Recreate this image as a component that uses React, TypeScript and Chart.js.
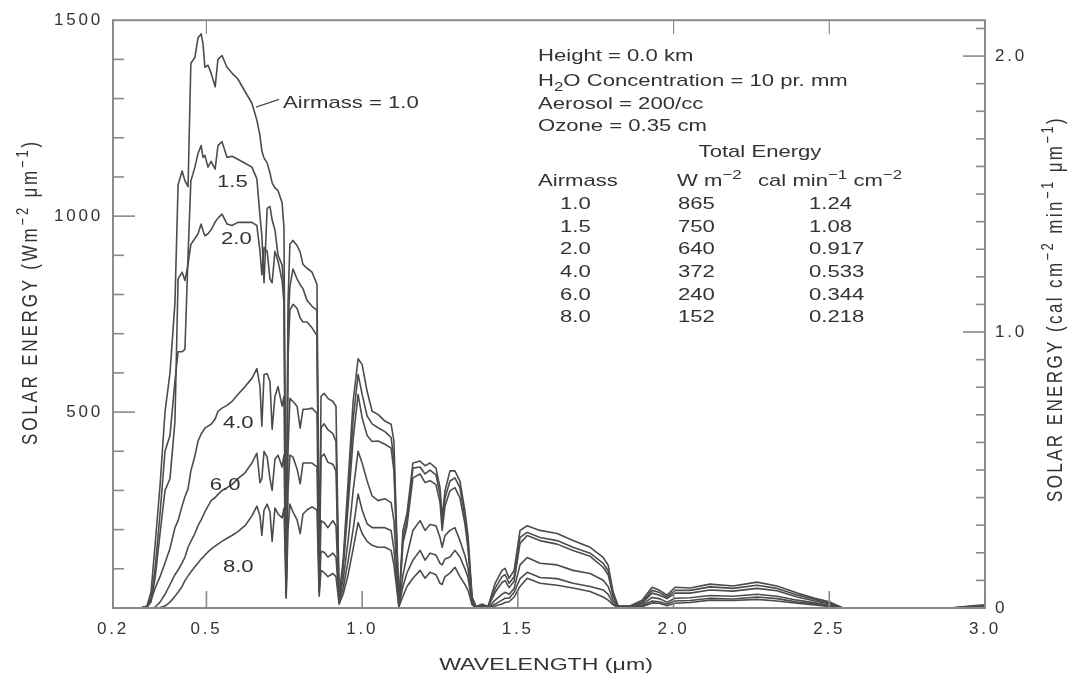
import React, { useEffect, useRef } from "react";
import { Chart, registerables } from "chart.js";

Chart.register(...registerables);

// ---------- data ----------
const wavelength = [
  0.200, 0.287, 0.309, 0.322, 0.335, 0.351, 0.367, 0.383, 0.399, 0.409,
  0.422, 0.431, 0.441, 0.450, 0.463, 0.473, 0.483, 0.489, 0.495, 0.505,
  0.515, 0.528, 0.537, 0.550, 0.566, 0.582, 0.601, 0.624, 0.646, 0.662,
  0.672, 0.678, 0.685, 0.695, 0.704, 0.711, 0.720, 0.730, 0.743, 0.749,
  0.756, 0.762, 0.768, 0.778, 0.791, 0.801, 0.810, 0.823, 0.839, 0.855,
  0.862, 0.868, 0.878, 0.890, 0.906, 0.916, 0.926, 0.939, 0.955, 0.971,
  0.987, 1.000, 1.016, 1.032, 1.051, 1.073, 1.093, 1.102, 1.118, 1.131,
  1.144, 1.163, 1.186, 1.202, 1.218, 1.237, 1.250, 1.257, 1.266, 1.282,
  1.298, 1.314, 1.330, 1.340, 1.353, 1.366, 1.385, 1.404, 1.427, 1.449,
  1.459, 1.472, 1.488, 1.507, 1.530, 1.571, 1.626, 1.677, 1.732, 1.774,
  1.790, 1.806, 1.822, 1.860, 1.899, 1.931, 1.953, 1.979, 2.005, 2.053,
  2.117, 2.191, 2.268, 2.332, 2.397, 2.454, 2.503, 2.544, 2.727, 2.888,
  2.952, 3.000,
];

const airmass10 = [
  0, 0, 5, 40, 160, 312, 500, 600, 780, 1080,
  1115, 1090, 1075, 1390, 1405, 1455, 1465, 1440, 1380, 1385,
  1365, 1330, 1400, 1410, 1380, 1365, 1350, 1318, 1288, 1245,
  1205, 1166, 1148, 1136, 1110, 1085, 1072, 1065, 1034, 970,
  40, 780, 928, 938, 925, 908, 877, 867, 857, 826,
  80, 540, 548, 535, 527, 515, 28, 122, 324, 527,
  636, 621, 553, 502, 494, 477, 469, 426, 10, 198,
  241, 370, 375, 363, 370, 357, 307, 231, 299, 350,
  350, 324, 248, 185, 28, 3, 10, 3, 63, 96,
  101, 76, 96, 198, 210, 198, 190, 172, 155, 129,
  109, 41, 5, 5, 20, 53, 46, 33, 53, 51,
  61, 56, 66, 56, 38, 25, 15, 0, 0, 0,
  5, 8,
];

const airmass15 = [
  0, 0, 3, 25, 100, 240, 400, 440, 580, 654,
  654, 660, 900, 1090, 1125, 1160, 1180, 1150, 1155, 1125,
  1140, 1120, 1180, 1190, 1150, 1153, 1145, 1135, 1125, 1095,
  1000, 950, 830, 1020, 1025, 990, 965, 900, 875, 815,
  40, 720, 820, 865, 840, 825, 815, 785, 770, 760,
  70, 460, 470, 455, 445, 425, 25, 110, 290, 480,
  596, 545, 490, 470, 460, 450, 435, 380, 8, 180,
  225, 357, 360, 342, 352, 340, 290, 215, 280, 324,
  332, 307, 230, 165, 25, 3, 8, 3, 50, 80,
  85, 63, 80, 180, 193, 180, 172, 155, 140, 114,
  95, 35, 5, 5, 15, 45, 40, 28, 45, 45,
  54, 50, 58, 50, 33, 22, 12, 0, 0, 0,
  4, 6,
];

const airmass20 = [
  0, 0, 2, 15, 75, 190, 300, 330, 477, 840,
  857, 836, 877, 928, 943, 955, 980, 963, 950, 955,
  965, 985, 995, 1005, 980, 976, 984, 984, 984, 976,
  910, 850, 920, 910, 840, 830, 910, 885, 835, 780,
  38, 640, 760, 775, 765, 740, 730, 730, 715, 695,
  60, 385, 393, 372, 367, 350, 22, 100, 260, 430,
  545, 485, 440, 425, 426, 418, 408, 350, 7, 165,
  210, 332, 342, 320, 325, 315, 270, 198, 260, 299,
  307, 281, 215, 150, 22, 3, 7, 3, 40, 65,
  70, 52, 68, 165, 185, 172, 163, 147, 132, 104,
  85, 30, 4, 4, 12, 38, 33, 24, 38, 38,
  46, 43, 50, 44, 28, 18, 10, 0, 0, 0,
  3, 5,
];

const airmass40 = [
  0, 0, 3, 20, 50, 80, 115, 152, 205, 223,
  261, 284, 304, 350, 388, 426, 444, 451, 459, 464,
  469, 482, 502, 510, 517, 527, 545, 565, 586, 611,
  565, 464, 596, 598, 578, 456, 540, 565, 515, 540,
  33, 400, 535, 527, 515, 459, 507, 507, 510, 497,
  46, 223, 218, 205, 223, 210, 20, 71, 172, 299,
  400, 370, 324, 286, 274, 279, 269, 223, 5, 84,
  134, 198, 223, 198, 213, 210, 180, 155, 185, 198,
  205, 172, 134, 101, 15, 2, 5, 2, 20, 35,
  40, 35, 50, 110, 129, 114, 110, 96, 88, 71,
  55, 20, 3, 3, 8, 27, 24, 15, 25, 26,
  32, 30, 35, 30, 20, 13, 7, 0, 0, 0,
  2, 3,
];

const airmass60 = [
  0, 0, 0, 0, 2, 15, 35, 60, 85, 97,
  115, 130, 155, 170, 190, 210, 225, 235, 245, 260,
  274, 282, 290, 300, 307, 315, 330, 345, 370, 395,
  320, 330, 400, 385, 330, 300, 380, 390, 360, 390,
  30, 300, 390, 385, 355, 317, 370, 370, 370, 360,
  40, 145, 142, 130, 140, 130, 15, 50, 120, 200,
  291, 250, 215, 205, 205, 205, 198, 150, 4, 55,
  90, 122, 147, 122, 140, 135, 114, 110, 125, 130,
  147, 130, 100, 78, 10, 1, 3, 1, 10, 20,
  25, 25, 40, 75, 91, 78, 75, 63, 55, 46,
  35, 12, 2, 2, 5, 18, 16, 10, 18, 19,
  25, 23, 28, 24, 15, 10, 5, 0, 0, 0,
  1, 2,
];

const airmass80 = [
  0, 0, 0, 0, 0, 1, 5, 15, 30, 40,
  55, 70, 82, 92, 105, 115, 125, 129, 135, 143,
  150, 158, 163, 170, 178, 185, 195, 210, 235, 260,
  235, 185, 250, 265, 245, 170, 255, 240, 230, 255,
  25, 200, 265, 245, 225, 190, 240, 250, 258, 250,
  30, 96, 90, 80, 88, 80, 10, 35, 85, 150,
  218, 190, 170, 160, 155, 155, 147, 110, 3, 30,
  55, 76, 96, 76, 91, 85, 63, 60, 80, 89,
  104, 80, 60, 45, 8, 1, 2, 1, 5, 10,
  14, 16, 28, 55, 76, 63, 58, 51, 42, 28,
  20, 8, 1, 1, 3, 13, 12, 6, 12, 14,
  20, 19, 22, 18, 12, 8, 3, 0, 0, 0,
  1, 1,
];

const seriesNames = ["1.0", "1.5", "2.0", "4.0", "6.0", "8.0"];
const totalEnergyWm2 = ["865", "750", "640", "372", "240", "152"];
const totalEnergyCal = ["1.24", "1.08", "0.917", "0.533", "0.344", "0.218"];
const conditionLines = ["Height = 0.0 km", "Concentration = 10 pr. mm", "Aerosol = 200/cc", "Ozone = 0.35 cm"];

const xTickValues = [0.2, 0.5, 1.0, 1.5, 2.0, 2.5, 3.0];
const xTopTickValues = [0.5, 2.0, 2.5];
const leftLabelValues = [500, 1000, 1500];
const leftMinorValues = [100, 200, 300, 400, 500, 600, 700, 800, 900, 1000, 1100, 1200, 1300, 1400];
const rightLabelValues = [0, 1.0, 2.0];
const rightMinorValues = [0.1, 0.2, 0.3, 0.4, 0.5, 0.6, 0.7, 0.8, 0.9, 1.0, 1.1, 1.2, 1.3, 1.4, 1.5, 1.6, 1.7, 1.8, 1.9, 2.0, 2.1];
const leftMax = 1500;
const rightMax = 2.13;

// ---------- styling ----------
const FONT = '"Liberation Sans", Arial, Helvetica, sans-serif';
const TEXT_COLOR = "#333333";
const LINE_COLOR = "#4c4c4c";
const FRAME_COLOR = "#8a8a8a";
const TICK_SPACING = 2.8;

type Run = { t: string; s?: "sup" | "sub" };
type TextOpts = { size: number; align: "left" | "center"; sx?: number; sy?: number; spacing?: number };

function setSpacing(ctx: CanvasRenderingContext2D, px: number) {
  try {
    (ctx as any).letterSpacing = px + "px";
  } catch (e) {}
}

function fontFor(size: number, run: Run) {
  return `${run.s ? Math.round(size * 0.74) : size}px ${FONT}`;
}

function drawText(ctx: CanvasRenderingContext2D, runs: Run[], x: number, y: number, o: TextOpts) {
  const sx = o.sx ?? 1;
  const sy = o.sy ?? 1;
  setSpacing(ctx, o.spacing ?? 0);
  ctx.textAlign = "left";
  ctx.textBaseline = "alphabetic";
  const widths = runs.map((r) => {
    ctx.font = fontFor(o.size, r);
    return ctx.measureText(r.t).width;
  });
  const total = widths.reduce((a, b) => a + b, 0);
  ctx.save();
  ctx.translate(x, y);
  ctx.scale(sx, sy);
  let cx = o.align === "center" ? -total / 2 : 0;
  runs.forEach((r, i) => {
    ctx.font = fontFor(o.size, r);
    const dy = r.s === "sup" ? -o.size * 0.42 : r.s === "sub" ? o.size * 0.28 : 0;
    ctx.fillText(r.t, cx, dy);
    cx += widths[i];
  });
  ctx.restore();
}

function line(ctx: CanvasRenderingContext2D, x1: number, y1: number, x2: number, y2: number) {
  ctx.beginPath();
  ctx.moveTo(x1, y1);
  ctx.lineTo(x2, y2);
  ctx.stroke();
}

const decorPlugin = {
  id: "decor",
  beforeDraw(chart: any) {
    const ctx = chart.ctx as CanvasRenderingContext2D;
    ctx.save();
    ctx.fillStyle = "#ffffff";
    ctx.fillRect(0, 0, chart.width, chart.height);
    ctx.restore();
    setSpacing(ctx, TICK_SPACING);
  },
  afterDraw(chart: any) {
    const ctx = chart.ctx as CanvasRenderingContext2D;
    const { left, right, top, bottom } = chart.chartArea;
    const xs = chart.scales.x;
    const ys = chart.scales.y;
    const y2 = chart.scales.y2;
    ctx.save();

    // frame
    ctx.strokeStyle = FRAME_COLOR;
    ctx.lineWidth = 2;
    ctx.strokeRect(left, top, right - left, bottom - top);

    // ticks (inward)
    ctx.lineWidth = 1.6;
    leftMinorValues.forEach((v) => {
      const py = ys.getPixelForValue(v);
      const len = v % 500 === 0 ? 22 : 11;
      line(ctx, left, py, left + len, py);
    });
    rightMinorValues.forEach((v) => {
      const py = y2.getPixelForValue(v);
      const major = Math.abs(v - 1) < 1e-6 || Math.abs(v - 2) < 1e-6;
      const len = major ? 22 : 9;
      line(ctx, right - len, py, right, py);
    });
    xTickValues.forEach((v) => {
      if (v < 0.3) return;
      const px = xs.getPixelForValue(v);
      line(ctx, px, bottom, px, bottom - 17);
    });
    ctx.lineWidth = 1.2;
    xTopTickValues.forEach((v) => {
      const px = xs.getPixelForValue(v);
      line(ctx, px, top, px, top + 14);
    });

    ctx.fillStyle = TEXT_COLOR;
    ctx.strokeStyle = LINE_COLOR;

    // axis titles
    ctx.save();
    ctx.translate(29, 292);
    ctx.rotate(-Math.PI / 2);
    drawText(ctx, [{ t: "SOLAR ENERGY (Wm" }, { t: "−2", s: "sup" }, { t: " μm" }, { t: "−1", s: "sup" }, { t: ")" }], 0, 8, {
      size: 17,
      align: "center",
      sy: 1.25,
      spacing: 2.8,
    });
    ctx.restore();

    ctx.save();
    ctx.translate(1054, 309);
    ctx.rotate(-Math.PI / 2);
    drawText(
      ctx,
      [{ t: "SOLAR ENERGY (cal cm" }, { t: "−2", s: "sup" }, { t: " min" }, { t: "−1", s: "sup" }, { t: " μm" }, { t: "−1", s: "sup" }, { t: ")" }],
      0,
      8,
      { size: 17, align: "center", sy: 1.25, spacing: 2.4 }
    );
    ctx.restore();

    drawText(ctx, [{ t: "WAVELENGTH (μm)" }], (left + right) / 2 - 3, 670, { size: 17, align: "center", sx: 1.36 });

    const H = { size: 17, align: "left" as const, sx: 1.3 };

    // curve labels (data coordinates)
    const P = (lx: number, w: number) => [xs.getPixelForValue(lx), ys.getPixelForValue(w)];
    const labelAt = (txt: string, lx: number, w: number) => {
      const [px, py] = P(lx, w);
      drawText(ctx, [{ t: txt }], px, py, H);
    };
    labelAt("Airmass = " + seriesNames[0], 0.746, 1275);
    ctx.lineWidth = 1.3;
    const [ax1, ay1] = P(0.659, 1278);
    const [ax2, ay2] = P(0.733, 1298);
    line(ctx, ax1, ay1, ax2, ay2);
    labelAt(seriesNames[1], 0.534, 1075);
    labelAt(seriesNames[2], 0.547, 928);
    labelAt(seriesNames[3], 0.553, 459);
    labelAt(seriesNames[4], 0.511, 302);
    labelAt(seriesNames[5], 0.553, 91);

    // conditions / table box
    const bx = left + 425;
    drawText(ctx, [{ t: conditionLines[0] }], bx, top + 41, H);
    drawText(ctx, [{ t: "H" }, { t: "2", s: "sub" }, { t: "O " + conditionLines[1] }], bx, top + 66, H);
    drawText(ctx, [{ t: conditionLines[2] }], bx, top + 89, H);
    drawText(ctx, [{ t: conditionLines[3] }], bx, top + 111, H);
    drawText(ctx, [{ t: "Total Energy" }], bx + 222, top + 137, { ...H, align: "center" });
    drawText(ctx, [{ t: "Airmass" }], bx, top + 166, H);
    drawText(ctx, [{ t: "W m" }, { t: "−2", s: "sup" }], bx + 139, top + 166, H);
    drawText(ctx, [{ t: "cal min" }, { t: "−1", s: "sup" }, { t: " cm" }, { t: "−2", s: "sup" }], bx + 220, top + 166, H);
    seriesNames.forEach((name, i) => {
      const by = top + 189 + i * 22.6;
      drawText(ctx, [{ t: name }], bx + 22, by, H);
      drawText(ctx, [{ t: totalEnergyWm2[i] }], bx + 140, by, H);
      drawText(ctx, [{ t: totalEnergyCal[i] }], bx + 271, by, H);
    });

    ctx.restore();
    setSpacing(ctx, TICK_SPACING);
  },
};

const seriesData = [airmass10, airmass15, airmass20, airmass40, airmass60, airmass80];

export default function App() {
  const canvasRef = useRef<HTMLCanvasElement | null>(null);

  useEffect(() => {
    const canvas = canvasRef.current;
    if (!canvas) return;
    const tickFont = { family: FONT, size: 17 };
    const chart = new Chart(canvas, {
      type: "line",
      data: {
        datasets: seriesData.map((arr, i) => ({
          label: "Airmass " + seriesNames[i],
          data: wavelength.map((w, j) => ({ x: w, y: arr[j] })),
          borderColor: LINE_COLOR,
          borderWidth: 1.6,
          pointRadius: 0,
          tension: 0,
          fill: false,
          borderJoinStyle: "round" as const,
          yAxisID: "y",
        })),
      },
      options: {
        responsive: false,
        animation: false,
        devicePixelRatio: 1,
        layout: { padding: { top: 16, left: 0, right: 0, bottom: 0 } },
        plugins: { legend: { display: false }, tooltip: { enabled: false } },
        scales: {
          x: {
            type: "linear",
            position: "bottom",
            min: 0.2,
            max: 3.0,
            grid: { display: false, drawTicks: false },
            border: { display: false },
            afterBuildTicks: (scale: any) => {
              scale.ticks = xTickValues.map((v) => ({ value: v }));
            },
            afterFit: (scale: any) => {
              scale.height = 68;
            },
            ticks: {
              font: tickFont,
              color: TEXT_COLOR,
              padding: 11,
              maxRotation: 0,
              autoSkip: false,
              callback: (v: any) => Number(v).toFixed(1),
            },
          },
          y: {
            type: "linear",
            position: "left",
            min: 0,
            max: leftMax,
            grid: { display: false, drawTicks: false },
            border: { display: false },
            afterBuildTicks: (scale: any) => {
              scale.ticks = leftLabelValues.map((v) => ({ value: v }));
            },
            afterFit: (scale: any) => {
              scale.width = 113;
            },
            ticks: {
              font: tickFont,
              color: TEXT_COLOR,
              padding: 10,
              autoSkip: false,
              callback: (v: any) => String(v),
            },
          },
          y2: {
            type: "linear",
            position: "right",
            min: 0,
            max: rightMax,
            grid: { display: false, drawTicks: false },
            border: { display: false },
            afterBuildTicks: (scale: any) => {
              scale.ticks = rightLabelValues.map((v) => ({ value: v }));
            },
            afterFit: (scale: any) => {
              scale.width = 83;
            },
            ticks: {
              font: tickFont,
              color: TEXT_COLOR,
              padding: 10,
              autoSkip: false,
              callback: (v: any) => (Number(v) === 0 ? "0" : Number(v).toFixed(1)),
            },
          },
        },
      } as any,
      plugins: [decorPlugin as any],
    });
    return () => chart.destroy();
  }, []);

  return (
    <div style={{ position: "fixed", left: 0, top: 0, width: 1068, height: 676, background: "#fff" }}>
      <canvas ref={canvasRef} width={1068} height={676} style={{ display: "block" }} />
    </div>
  );
}
